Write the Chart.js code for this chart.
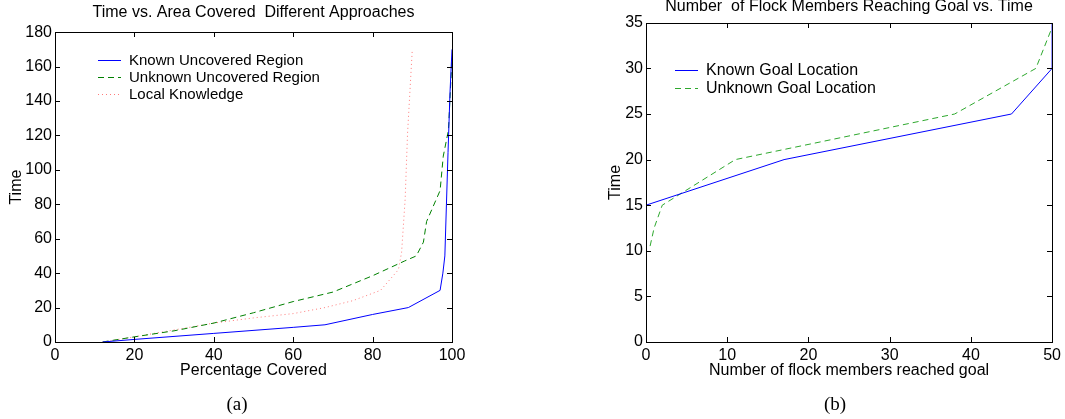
<!DOCTYPE html>
<html>
<head>
<meta charset="utf-8">
<script src="https://cdn.jsdelivr.net/npm/chart.js@4.4.1/dist/chart.umd.min.js"></script>
<style>
  body { margin: 0; background: #fff; width: 1065px; height: 419px; overflow: hidden; position: relative; }
  .box { position: absolute; top: 0; height: 419px; }
  .cap { position: absolute; top: 393px; width: 60px; text-align: center; font-family: "Liberation Serif", serif; font-size: 19px; color: #000; }
</style>
</head>
<body>
<div class="box" style="left:0;width:470px"><canvas id="chartA" width="470" height="419"></canvas></div>
<div class="box" style="left:590px;width:475px"><canvas id="chartB" width="475" height="419"></canvas></div>
<div class="cap" style="left:207px">(a)</div>
<div class="cap" style="left:805px">(b)</div>
<script>
// (a) Time vs. area covered
const knownRegionX = [12, 20, 40, 60, 68, 80, 89, 97, 97.7, 98.2, 99, 99.5, 100];
const knownRegionY = [0, 1.5, 5, 8.5, 10, 16, 20, 30, 40, 50, 110, 145, 170];
const unknownRegionX = [12, 20, 30, 40, 50, 60, 70, 80, 88, 91, 92.8, 93.6, 97, 97.8, 99.1, 100];
const unknownRegionY = [0, 3, 6.5, 11, 17, 23.5, 29, 38.5, 47, 50, 58, 70, 88, 108, 123, 165];
const localX = [12, 20, 30, 40, 50, 60, 68, 75, 82, 86.5, 87.3, 88.2, 88.8, 90];
const localY = [0, 3, 7, 11, 14, 16.5, 20, 24, 30, 42, 52, 83, 121, 170];

// (b) Flock members reaching goal
const knownGoalX = [0, 0, 17, 45, 50, 50];
const knownGoalY = [0, 15, 20, 25, 30, 35];
const unknownGoalX = [0, 0, 0.5, 1, 2, 11, 38, 45, 48, 50];
const unknownGoalY = [0, 10.5, 10.5, 12.5, 15, 20, 25, 28.5, 30, 34.5];

function pts(xs, ys) {
  return xs.map((x, i) => ({ x: x, y: ys[i] }));
}

const FONT = "'Liberation Sans', Arial, sans-serif";

// frame round the plot, ticks pointing inward on all four sides
const boxTicks = {
  id: "boxTicks",
  afterDraw(chart) {
    const ctx = chart.ctx;
    const a = chart.chartArea;
    const sx = chart.scales.x, sy = chart.scales.y;
    const L = Math.round(a.left), R = Math.round(a.right);
    const T = Math.round(a.top), B = Math.round(a.bottom);
    const len = 5;
    ctx.save();
    ctx.fillStyle = "#000";
    ctx.fillRect(L, T, R - L + 1, 1);
    ctx.fillRect(L, B, R - L + 1, 1);
    ctx.fillRect(L, T, 1, B - T + 1);
    ctx.fillRect(R, T, 1, B - T + 1);
    for (let i = 0; i < sx.ticks.length; i++) {
      const px = Math.round(sx.getPixelForTick(i));
      ctx.fillRect(px, B - len, 1, len);
      ctx.fillRect(px, T, 1, len);
    }
    for (let i = 0; i < sy.ticks.length; i++) {
      const py = Math.round(sy.getPixelForTick(i));
      ctx.fillRect(L, py, len, 1);
      ctx.fillRect(R - len, py, len, 1);
    }
    ctx.restore();
  }
};

// legend drawn inside the plot area
const innerLegend = {
  id: "innerLegend",
  afterDraw(chart, args, opts) {
    const ctx = chart.ctx;
    const a = chart.chartArea;
    ctx.save();
    ctx.font = opts.fontSize + "px " + FONT;
    ctx.textBaseline = "middle";
    chart.data.datasets.forEach((ds, i) => {
      const y = Math.round(a.top + opts.top + i * opts.row);
      const x0 = Math.round(a.left + opts.left);
      const dash = ds.borderDash || [opts.lineLen, 0];
      ctx.fillStyle = ds.borderColor;
      let x = x0, k = 0;
      while (x < x0 + opts.lineLen) {
        const on = Math.min(dash[k % 2], x0 + opts.lineLen - x);
        if (k % 2 === 0) ctx.fillRect(x, y, on, 1);
        x += dash[k % 2] || opts.lineLen;
        k++;
      }
      ctx.fillStyle = "#000";
      ctx.fillText(ds.label, x0 + opts.lineLen + opts.gap, y + 0.5);
    });
    ctx.restore();
  }
};

function makeChart(el, cfg) {
  return new Chart(el, {
    type: "line",
    data: { datasets: cfg.datasets },
    options: {
      responsive: false,
      animation: false,
      layout: { padding: { left: 0, right: cfg.padRight, top: 0, bottom: 0 } },
      elements: { point: { radius: 0 }, line: { tension: 0, borderWidth: 1 } },
      plugins: {
        legend: { display: false },
        tooltip: { enabled: false },
        title: {
          display: true,
          text: cfg.title,
          fullSize: false,
          color: "#000",
          font: { family: FONT, size: cfg.titleSize, weight: "normal", lineHeight: cfg.titleLH },
          padding: { top: cfg.titleTop, bottom: cfg.titleBottom }
        },
        innerLegend: cfg.legend
      },
      scales: {
        x: {
          type: "linear",
          min: cfg.xMin, max: cfg.xMax,
          grid: { display: false, drawTicks: false },
          border: { display: false },
          ticks: { stepSize: cfg.xStep, color: "#000", padding: 4, maxRotation: 0,
                   font: { family: FONT, size: cfg.tickSize } },
          title: { display: true, text: cfg.xTitle, color: "#000",
                   font: { family: FONT, size: cfg.axisSize },
                   padding: { top: 0, bottom: 39 } },
          afterFit(s) { s.height = 77; }
        },
        y: {
          min: cfg.yMin, max: cfg.yMax,
          grid: { display: false, drawTicks: false },
          border: { display: false },
          ticks: { stepSize: cfg.yStep, color: "#000", padding: 3,
                   font: { family: FONT, size: cfg.tickSize } },
          title: { display: true, text: "Time", color: "#000",
                   font: { family: FONT, size: cfg.axisSize },
                   padding: { top: cfg.yTitlePad, bottom: 0 } },
          afterFit(s) { s.width = cfg.yWidth; }
        }
      }
    },
    plugins: [boxTicks, innerLegend]
  });
}

makeChart(document.getElementById("chartA"), {
  title: "Time vs. Area Covered  Different Approaches",
  titleSize: 16, titleLH: 1.2, titleTop: 3, titleBottom: 10,
  xTitle: "Percentage Covered",
  xMin: 0, xMax: 100, xStep: 20,
  yMin: 0, yMax: 180, yStep: 20,
  tickSize: 16, axisSize: 16,
  yWidth: 55, yTitlePad: 7, padRight: 18,
  legend: { left: 43, top: 28, row: 17, lineLen: 23, gap: 8, fontSize: 15 },
  datasets: [
    { label: "Known Uncovered Region", data: pts(knownRegionX, knownRegionY), borderColor: "#0000ff" },
    { label: "Unknown Uncovered Region", data: pts(unknownRegionX, unknownRegionY), borderColor: "#008000", borderDash: [6, 4] },
    { label: "Local Knowledge", data: pts(localX, localY), borderColor: "#ff7a7a", borderDash: [1, 3] }
  ]
});

makeChart(document.getElementById("chartB"), {
  title: "Number  of Flock Members Reaching Goal vs. Time",
  titleSize: 16, titleLH: 0.8, titleTop: 0, titleBottom: 10,
  xTitle: "Number of flock members reached goal",
  xMin: 0, xMax: 50, xStep: 10,
  yMin: 0, yMax: 35, yStep: 5,
  tickSize: 16, axisSize: 16,
  yWidth: 56, yTitlePad: 16, padRight: 11,
  legend: { left: 29, top: 47, row: 18, lineLen: 23, gap: 8, fontSize: 16 },
  datasets: [
    { label: "Known Goal Location", data: pts(knownGoalX, knownGoalY), borderColor: "#0000ff" },
    { label: "Unknown Goal Location", data: pts(unknownGoalX, unknownGoalY), borderColor: "#2ea82e", borderDash: [6, 4] }
  ]
});
</script>
</body>
</html>
